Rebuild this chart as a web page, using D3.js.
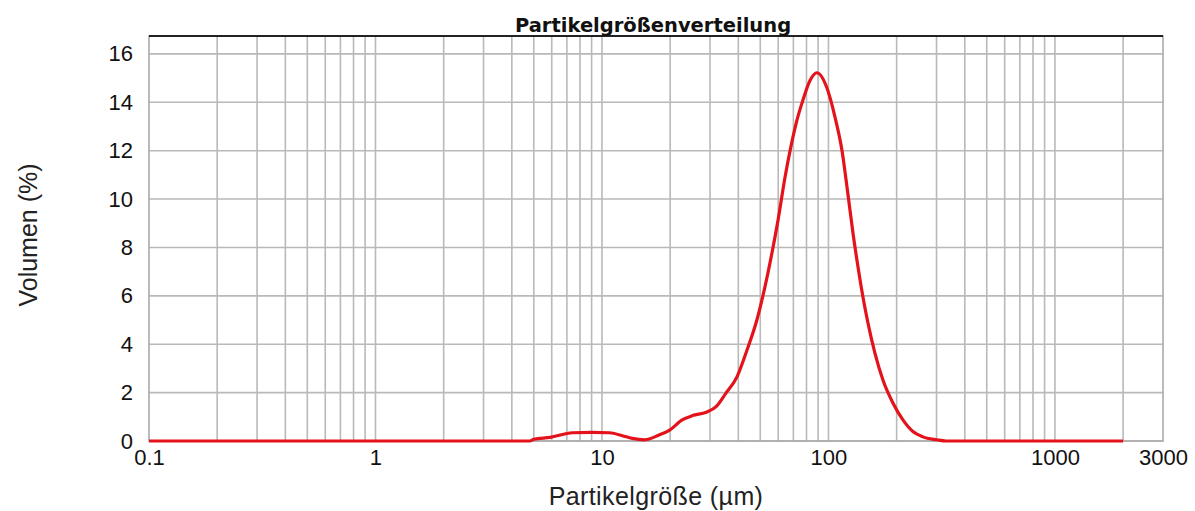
<!DOCTYPE html>
<html>
<head>
<meta charset="utf-8">
<script src="https://cdn.jsdelivr.net/npm/d3@7"></script>
<style>
  html, body { margin: 0; padding: 0; background: #fff; }
  svg { display: block; }
</style>
</head>
<body>
<svg id="chart" width="1195" height="511"></svg>
<script>
// Particle size (µm) and volume fraction (%) of the distribution curve
const sizes = [0.1, 1, 4.8, 5.0, 5.9, 7.4, 9.0, 10.8, 12.3, 13.6, 15.4, 17.9, 19.9, 22.6, 25.1,
  28.9, 31.9, 35.1, 39.4, 43.7, 48.3, 52.4, 56.3, 59.9, 64.3, 67.7, 72.6, 77.2, 82.9, 88.9,
  98.4, 106.8, 114.8, 121.9, 128.3, 135.0, 142.0, 149.4, 160.4, 174.0, 192.6, 213.2, 236.0,
  261.3, 301, 330, 1000, 2000];
const volume = [0, 0, 0, 0.07, 0.15, 0.34, 0.36, 0.34, 0.22, 0.11, 0.05, 0.25, 0.45, 0.87, 1.05,
  1.19, 1.42, 1.95, 2.64, 3.76, 5.0, 6.36, 7.77, 9.13, 10.9, 12.0, 13.26, 14.1, 14.9, 15.22,
  14.6, 13.4, 12.0, 10.2, 8.6, 7.2, 5.95, 4.88, 3.63, 2.52, 1.57, 0.87, 0.39,
  0.17, 0.05, 0, 0, 0];

// Axis ticks
const xTickLabels = [0.1, 1, 10, 100, 1000, 3000];
const yTickLabels = [0, 2, 4, 6, 8, 10, 12, 14, 16];

const svg = d3.select("#chart");
const plotL = 149, plotR = 1163, plotT = 36, plotB = 441;

const x = d3.scaleLog().domain([0.1, 3000]).range([plotL, plotR]);
const y = d3.scaleLinear().domain([0, 16.74]).range([plotB, plotT]);

// Vertical grid: every 1..9 of each decade, up to 2000
const gridX = [];
for (let d = 0.1; d < 3000; d *= 10) {
  for (let k = 1; k <= 9; k++) {
    const v = +(k * d).toPrecision(3);
    if (v > 0.1 && v <= 2000) gridX.push(v);
  }
}

const grid = svg.append("g").attr("stroke", "#b9b9b9").attr("stroke-width", 1.6);
grid.selectAll("line.v").data(gridX).join("line")
  .attr("x1", d => x(d)).attr("x2", d => x(d))
  .attr("y1", plotT).attr("y2", plotB);
grid.selectAll("line.h").data(yTickLabels).join("line")
  .attr("x1", plotL).attr("x2", plotR)
  .attr("y1", d => y(d)).attr("y2", d => y(d));

// Frame: grey sides, dark top edge
svg.append("rect")
  .attr("x", plotL).attr("y", plotT)
  .attr("width", plotR - plotL).attr("height", plotB - plotT)
  .attr("fill", "none").attr("stroke", "#aaaaaa").attr("stroke-width", 1.6);
svg.append("line")
  .attr("x1", plotL).attr("x2", plotR).attr("y1", plotT).attr("y2", plotT)
  .attr("stroke", "#222").attr("stroke-width", 2);

// Axes (labels only, no domain or tick marks)
const xAxis = d3.axisBottom(x).tickValues(xTickLabels).tickFormat(d3.format("")).tickSize(0).tickPadding(0);
const gx = svg.append("g").attr("transform", `translate(0,${plotB})`).call(xAxis);
gx.select(".domain").remove();
gx.selectAll("text")
  .attr("dy", null).attr("y", 24)
  .attr("font-family", "Liberation Sans, Arial, sans-serif")
  .attr("font-size", 22).attr("fill", "#111");

const yAxis = d3.axisLeft(y).tickValues(yTickLabels).tickSize(0).tickPadding(16);
const gy = svg.append("g").attr("transform", `translate(${plotL},0)`).call(yAxis);
gy.select(".domain").remove();
gy.selectAll("text")
  .attr("font-family", "Liberation Sans, Arial, sans-serif")
  .attr("font-size", 22).attr("fill", "#111");

// Distribution curve
const pts = sizes.map((s, i) => [s, volume[i]]);
const line = d3.line().x(d => x(d[0])).y(d => y(d[1])).curve(d3.curveMonotoneX);
svg.append("path")
  .datum(pts)
  .attr("d", line)
  .attr("fill", "none")
  .attr("stroke", "#e4121b")
  .attr("stroke-width", 3.2)
  .attr("stroke-linejoin", "round");

// Titles
svg.append("text")
  .attr("x", 653).attr("y", 32)
  .attr("text-anchor", "middle")
  .attr("font-family", "DejaVu Sans, Verdana, sans-serif")
  .attr("font-weight", "bold").attr("font-size", 19.5).attr("fill", "#111")
  .text("Partikelgrößenverteilung");

svg.append("text")
  .attr("x", 656).attr("y", 505)
  .attr("text-anchor", "middle")
  .attr("font-family", "Liberation Sans, Arial, sans-serif")
  .attr("font-size", 25).attr("letter-spacing", 0.4).attr("fill", "#222")
  .text("Partikelgröße (µm)");

svg.append("text")
  .attr("transform", "translate(37,235) rotate(-90)")
  .attr("text-anchor", "middle")
  .attr("font-family", "Liberation Sans, Arial, sans-serif")
  .attr("font-size", 25).attr("fill", "#222")
  .text("Volumen (%)");
</script>
</body>
</html>
